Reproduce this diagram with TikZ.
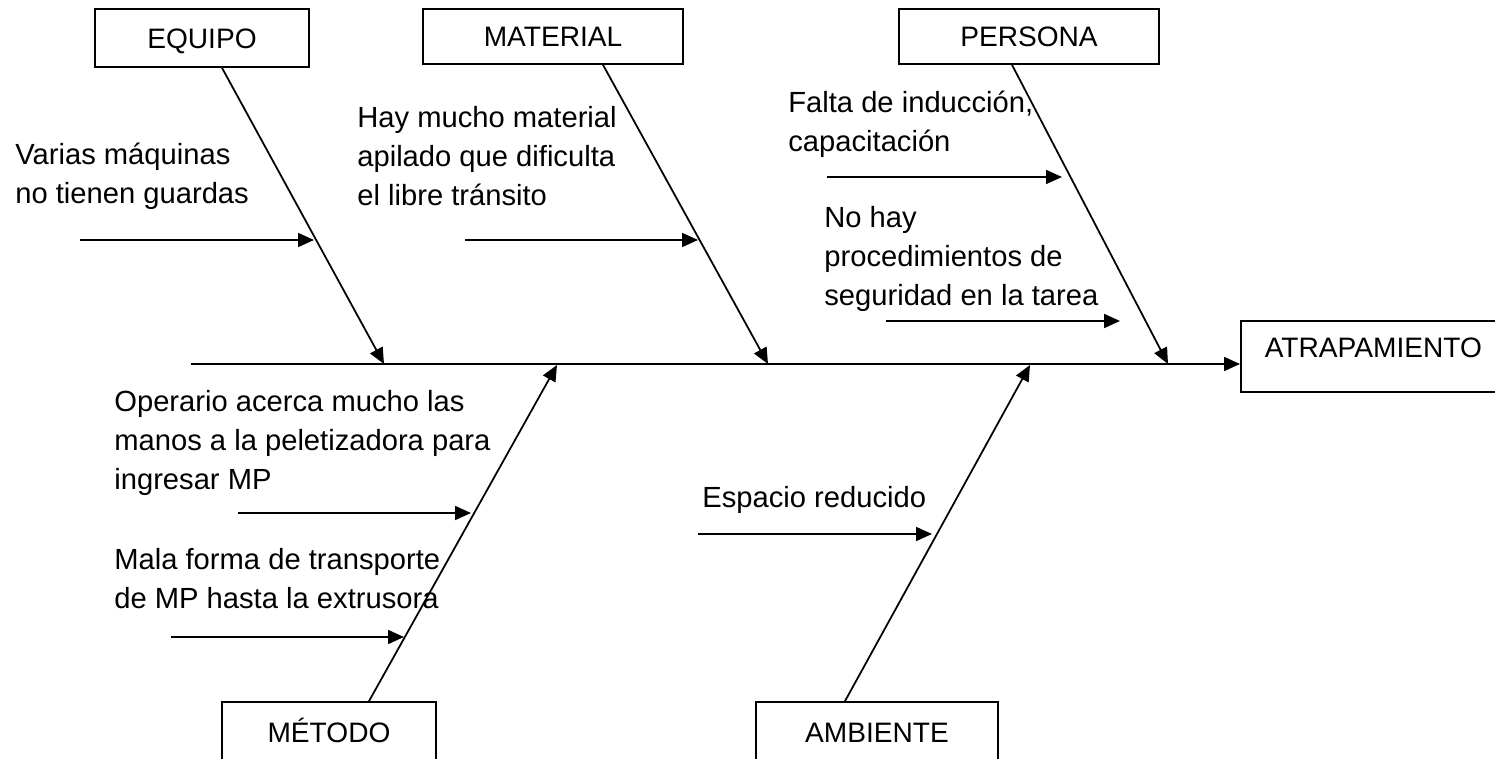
\documentclass[tikz,border=0pt]{standalone}
\usepackage{fontspec}
\setmainfont{Liberation Sans}
\usetikzlibrary{arrows.meta, calc}

\begin{document}
\begin{tikzpicture}[x=0.02cm, y=-0.02cm,
	catbox/.style={draw, line width=1pt, inner sep=0pt, font=\fontsize{16}{20}\selectfont, text height=11.5pt, text depth=0pt},
	causetext/.style={anchor=base west, inner sep=0pt, align=left, font=\fontsize{16.6}{22.2}\selectfont},
	bone/.style={line width=1pt, -{Triangle[length=0.32cm, width=0.28cm]}}]
				\useasboundingbox (0,0) rectangle (1495,759);
				
				\node[catbox, minimum width=4.28cm, minimum height=1.16cm] (equipo) at (202,38) {EQUIPO};
				\node[catbox, minimum width=5.2cm, minimum height=1.1cm] (material) at (553,36.5) {MATERIAL};
				\node[catbox, minimum width=5.2cm, minimum height=1.1cm] (persona) at (1029,36.5) {PERSONA};
				\node[catbox, minimum width=4.28cm, minimum height=1.2cm] (metodo) at (329,732) {MÉTODO};
				\node[catbox, minimum width=4.84cm, minimum height=1.2cm] (ambiente) at (877,732) {AMBIENTE};
				\node[catbox, anchor=west, minimum width=5.3cm, minimum height=1.42cm, text depth=0.36cm] (atrap) at (1240,356.5) {ATRAPAMIENTO};
				
				\node[causetext] (guardas) at (15,204) {Varias máquinas\\no tienen guardas};
				\node[causetext] (apilado) at (357,206) {Hay mucho material\\apilado que dificulta\\el libre tránsito};
				\node[causetext] (induccion) at (788,152) {Falta de inducción,\\capacitación};
				\node[causetext] (procedim) at (824,306) {No hay\\procedimientos de\\seguridad en la tarea};
				\node[causetext] (manos) at (114,490) {Operario acerca mucho las\\manos a la peletizadora para\\ingresar MP};
				\node[causetext] (transporte) at (114,609) {Mala forma de transporte\\de MP hasta la extrusora};
				\node[causetext] (espacio) at (702,508) {Espacio reducido};
				
				\coordinate (S) at (191,364);
				\coordinate (Q) at (384,364);
				\coordinate (M) at (768,364);
				\coordinate (P) at (1168,364);
				\coordinate (T) at (557,365);
				\coordinate (A) at (1030,365);
				
				\draw[bone] (S) -- (S -| atrap.west);
				\draw[bone] ($(equipo.south)+(20,0)$) -- (Q);
				\draw[bone] ($(material.south)+(50,0)$) -- (M);
				\draw[bone] ($(persona.south)+(-17,0)$) -- (P);
				\draw[bone] ($(metodo.north)+(40,0)$) -- (T);
				\draw[bone] ($(ambiente.north)+(-32,0)$) -- (A);
				
				\coordinate (G1) at (80,240);
				\coordinate (G2) at (314,240);
				\coordinate (L1) at (465,240);
				\coordinate (L2) at (698,240);
				\coordinate (I1) at (827,177);
				\coordinate (I2) at (1062,177);
				\coordinate (R1) at (886,321);
				\coordinate (R2) at (1120,321);
				\coordinate (O1) at (238,513);
				\coordinate (O2) at (471,513);
				\coordinate (X1) at (171,637);
				\coordinate (X2) at (404,637);
				\coordinate (E1) at (698,534);
				\coordinate (E2) at (932,534);
				
				\draw[bone] (G1) -- (G2);
				\draw[bone] (L1) -- (L2);
				\draw[bone] (I1) -- (I2);
				\draw[bone] (R1) -- (R2);
				\draw[bone] (O1) -- (O2);
				\draw[bone] (X1) -- (X2);
				\draw[bone] (E1) -- (E2);
				\end{tikzpicture}
\end{document}
